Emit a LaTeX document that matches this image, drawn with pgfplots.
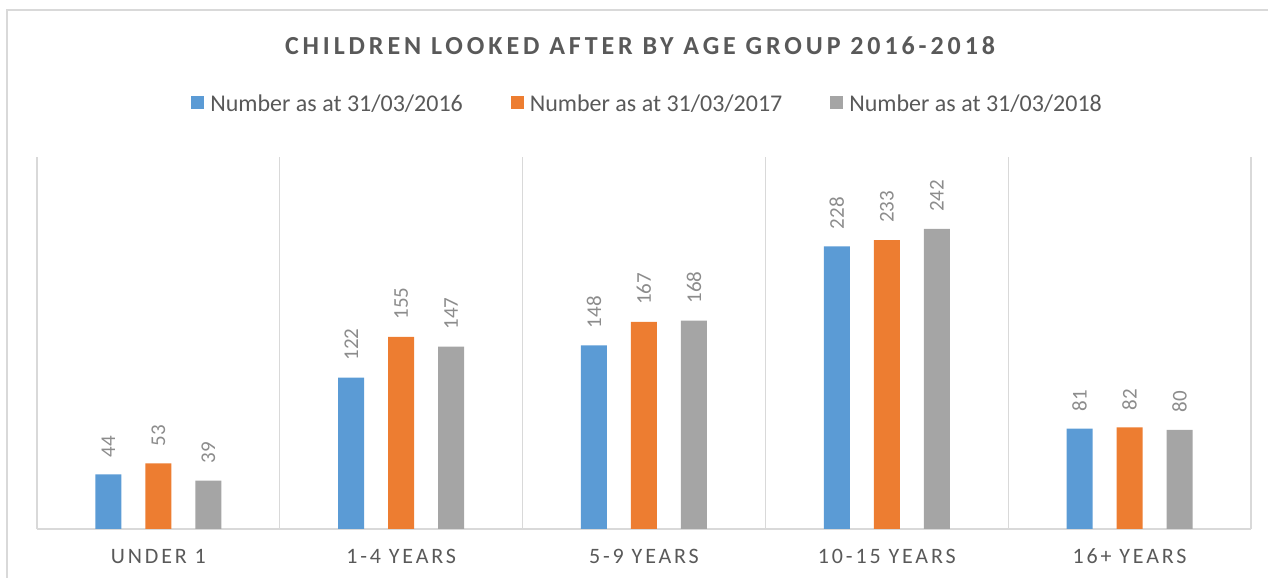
\documentclass[border=0pt]{standalone}
\usepackage{pgfplots}
\pgfplotsset{compat=1.18}
\usepackage{fontspec}
\setmainfont{Carlito}
\newfontfamily\titlefont[LetterSpace=15]{Carlito}
\newfontfamily\catfont[LetterSpace=13]{Carlito}
\definecolor{cblue}{HTML}{5B9BD5}
\definecolor{corange}{HTML}{ED7D31}
\definecolor{cgray}{HTML}{A5A5A5}
\definecolor{txt}{HTML}{595959}
\definecolor{lbl}{HTML}{8C8C8C}
\definecolor{gridc}{HTML}{D9D9D9}
\begin{document}
\begin{tikzpicture}
\path[use as bounding box] (0,0) rectangle (1268bp,578bp);
\draw[gridc, line width=1.5bp] (7bp,0) -- (7bp,568bp) -- (1268bp,568bp);
\begin{axis}[
  at={(37bp,49bp)}, anchor=south west,
  scale only axis, width=1214bp, height=372bp,
  ybar=24bp, bar width=26bp,
  ymin=0, ymax=300, xmin=-0.5, xmax=4.5,
  xtick={0,...,4},
  xticklabels={UNDER 1, 1-4 YEARS, 5-9 YEARS, 10-15 YEARS, 16+ YEARS},
  minor xtick={-0.5,0.5,...,4.5}, xminorgrids,
  minor grid style={gridc, line width=1.3bp},
  axis x line=bottom, axis y line=none,
  x axis line style={gridc, line width=1.5bp, -},
  major tick length=0pt, minor tick length=0pt,
  ytick=\empty,
  /pgf/number format/assume math mode=true,
  xticklabel style={font=\catfont\fontsize{22bp}{26bp}\selectfont, text=txt, anchor=center, yshift=-27.5bp},
  nodes near coords,
  every node near coord/.append style={font=\fontsize{21bp}{24bp}\selectfont, text=lbl, rotate=90, anchor=west, inner sep=0pt, inner xsep=17bp},
  legend columns=3,
  legend style={at={(0.503,1.144)}, anchor=center, draw=none, fill=none,
    font=\fontsize{24bp}{28bp}\selectfont, text=txt,
    /tikz/every even column/.append style={column sep=46bp}},
  legend cell align=left,
]
\addplot[fill=cblue, draw=none, legend image code/.code={\fill[cblue] (0bp,-6bp) rectangle (13bp,7bp); \path (17bp,0bp);}]
  coordinates {(0,44) (1,122) (2,148) (3,228) (4,81)};
\addplot[fill=corange, draw=none, legend image code/.code={\fill[corange] (0bp,-6bp) rectangle (13bp,7bp); \path (17bp,0bp);}]
  coordinates {(0,53) (1,155) (2,167) (3,233) (4,82)};
\addplot[fill=cgray, draw=none, legend image code/.code={\fill[cgray] (0bp,-6bp) rectangle (13bp,7bp); \path (17bp,0bp);}]
  coordinates {(0,39) (1,147) (2,168) (3,242) (4,80)};
\legend{Number as at 31/03/2016, Number as at 31/03/2017, Number as at 31/03/2018}
\end{axis}
\node[font=\titlefont\bfseries\fontsize{26bp}{30bp}\selectfont, text=txt] at (640bp,532bp) {CHILDREN LOOKED AFTER BY AGE GROUP 2016-2018};
\end{tikzpicture}
\end{document}
